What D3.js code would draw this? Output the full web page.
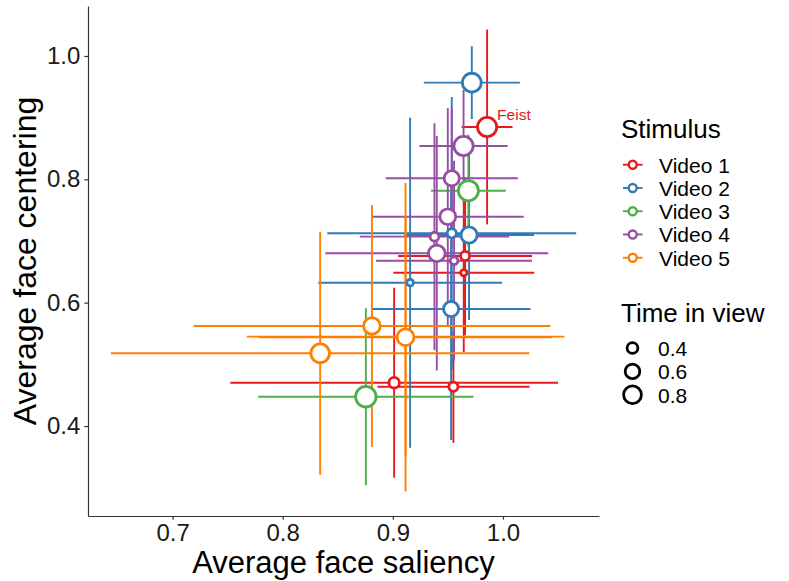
<!DOCTYPE html>
<html>
<head>
<meta charset="utf-8">
<script src="https://cdn.jsdelivr.net/npm/d3@7"></script>
<style>
  body { margin: 0; background: #fff; }
  svg text { font-family: "Liberation Sans", Arial, Helvetica, sans-serif; }
</style>
</head>
<body>
<div id="chart"></div>
<script>
let w = 789; let h = 581;

// data
const stimuli = ["Video 1", "Video 2", "Video 3", "Video 4", "Video 5"];
const colors = ["#E41A1C", "#2F7AB7", "#4DAF4A", "#984EA3", "#FF7F00"];

const pointVideo  = [0, 0, 0, 0, 0,   1, 1, 1, 1, 1,   2, 2,   3, 3, 3, 3, 3, 3,   4, 4, 4, 4];
const saliency    = [0.9856, 0.9656, 0.9644, 0.9012, 0.9550,
                     0.9717, 0.9692, 0.9535, 0.9157, 0.9529,
                     0.9686, 0.8755,
                     0.9642, 0.9535, 0.9499, 0.9378, 0.9399, 0.9556,
                     0.8810, 0.8340, 0.9116, 0.9115];
const saliencySE  = [0.0231, 0.0608, 0.0640, 0.1488, 0.0690,
                     0.0436, 0.0590, 0.1130, 0.0835, 0.0721,
                     0.0340, 0.0977,
                     0.0400, 0.0600, 0.0690, 0.0678, 0.1012, 0.0708,
                     0.1620, 0.1900, 0.1443, 0.1334];
const centering   = [0.8848, 0.6757, 0.6486, 0.4702, 0.4637,
                     0.9567, 0.7097, 0.7125, 0.6324, 0.5897,
                     0.7815, 0.4475,
                     0.8540, 0.8017, 0.7394, 0.7070, 0.6800, 0.6680,
                     0.5622, 0.5179, 0.5450, 0.5440];
const centeringSE = [0.1580, 0.1280, 0.1290, 0.1540, 0.0910,
                     0.0590, 0.1380, 0.2210, 0.2675, 0.2124,
                     0.0910, 0.1435,
                     0.0910, 0.1130, 0.1760, 0.1840, 0.1900, 0.1620,
                     0.1960, 0.1970, 0.1940, 0.2500];
const timeInView  = [0.90, 0.33, 0.23, 0.39, 0.33,
                     0.87, 0.69, 0.33, 0.24, 0.63,
                     0.97, 1.00,
                     0.90, 0.63, 0.67, 0.32, 0.72, 0.28,
                     0.72, 0.86, 0.50, 0.73];
const labels      = ["Feist", "", "", "", "", "", "", "", "", "", "", "", "", "", "", "", "", "", "", "", "", ""];

const xTicks = [0.7, 0.8, 0.9, 1.0];
const yTicks = [0.4, 0.6, 0.8, 1.0];
const sizeBreaks = [0.4, 0.6, 0.8];

let data = saliency.map((s, i) => ({
    x: s, xse: saliencySE[i],
    y: centering[i], yse: centeringSE[i],
    t: timeInView[i], v: pointVideo[i], label: labels[i]
}));

let svg = d3.select("#chart").append("svg").attr("width", w).attr("height", h);

let pLeft = 88, pTop = 6, pRight = 599, pBottom = 516;
let xScale = d3.scaleLinear().domain([0.6232, 1.0872]).range([pLeft, pRight]);
let yScale = d3.scaleLinear().domain([0.2541, 1.081]).range([pBottom, pTop]);
let colorScale = d3.scaleOrdinal().domain(d3.range(stimuli.length)).range(colors);
// outer circle area grows linearly with time in view
let areaScale = d3.scaleLinear().domain([0.4, 0.8]).range([46, 106]);
let stroke = 2.8;
let radius = (t) => Math.sqrt(areaScale(t)) - stroke / 2;

//error bars
let bars = svg.append("g");
data.forEach((d) => {
    bars.append("line")
    .attr("x1", xScale(d.x - d.xse)).attr("x2", xScale(d.x + d.xse))
    .attr("y1", yScale(d.y)).attr("y2", yScale(d.y))
    .attr("stroke", colorScale(d.v)).attr("stroke-width", 1.9);
    bars.append("line")
    .attr("x1", xScale(d.x)).attr("x2", xScale(d.x))
    .attr("y1", yScale(d.y - d.yse)).attr("y2", yScale(d.y + d.yse))
    .attr("stroke", colorScale(d.v)).attr("stroke-width", 1.9);
});

//points
svg.append("g").selectAll("circle").data(data).enter().append("circle")
    .attr("cx", (d) => xScale(d.x))
    .attr("cy", (d) => yScale(d.y))
    .attr("r", (d) => radius(d.t))
    .attr("fill", "white")
    .attr("stroke", (d) => colorScale(d.v))
    .attr("stroke-width", stroke);

svg.append("g").selectAll("text").data(data.filter((d) => d.label)).enter().append("text")
    .attr("x", (d) => xScale(d.x) + 10)
    .attr("y", (d) => yScale(d.y) - 7)
    .attr("font-size", "15.5px")
    .attr("fill", (d) => colorScale(d.v))
    .text((d) => d.label);

//axes
let xAxis = svg.append("g")
    .attr("transform", `translate(0, ${pBottom})`)
    .call(d3.axisBottom(xScale).tickValues(xTicks).tickFormat(d3.format(".1f")).tickSize(3.7).tickSizeOuter(0).tickPadding(4));
let yAxis = svg.append("g")
    .attr("transform", `translate(${pLeft}, 0)`)
    .call(d3.axisLeft(yScale).tickValues(yTicks).tickFormat(d3.format(".1f")).tickSize(3.7).tickSizeOuter(0).tickPadding(4));

[xAxis, yAxis].forEach((a) => {
    a.select(".domain").attr("stroke", "#333").attr("stroke-width", 1.2);
    a.selectAll(".tick line").attr("stroke", "#333").attr("stroke-width", 1.2);
    a.selectAll(".tick text").attr("font-size", "24px").attr("fill", "#1a1a1a")
     .attr("font-family", "Liberation Sans, Arial, sans-serif");
});

svg.append("text")
    .attr("x", (pLeft + pRight) / 2).attr("y", 573)
    .attr("text-anchor", "middle").attr("font-size", "31px").attr("fill", "black")
    .text("Average face saliency");

svg.append("text")
    .attr("transform", `translate(36, ${(pTop + pBottom) / 2}) rotate(-90)`)
    .attr("text-anchor", "middle").attr("font-size", "32px").attr("fill", "black")
    .text("Average face centering");

//legend: stimulus
let lg = svg.append("g");
lg.append("text").attr("x", 621).attr("y", 138).attr("font-size", "26px").text("Stimulus");
stimuli.forEach((s, i) => {
    let yb = 172.7 + i * 23.25;
    lg.append("line").attr("x1", 623).attr("x2", 642.5).attr("y1", yb - 8).attr("y2", yb - 8)
      .attr("stroke", colorScale(i)).attr("stroke-width", 1.9);
    lg.append("circle").attr("cx", 632.7).attr("cy", yb - 8).attr("r", 4)
      .attr("fill", "white").attr("stroke", colorScale(i)).attr("stroke-width", 2.4);
    lg.append("text").attr("x", 659).attr("y", yb).attr("font-size", "21px").text(s);
});

//legend: time in view
lg.append("text").attr("x", 621).attr("y", 322).attr("font-size", "26px").text("Time in view");
sizeBreaks.forEach((b, i) => {
    let yb = 356 + i * 23.35;
    lg.append("circle").attr("cx", 632.5).attr("cy", yb - 8).attr("r", radius(b))
      .attr("fill", "white").attr("stroke", "black").attr("stroke-width", stroke);
    lg.append("text").attr("x", 658).attr("y", yb).attr("font-size", "21px").text(d3.format(".1f")(b));
});
</script>
</body>
</html>
